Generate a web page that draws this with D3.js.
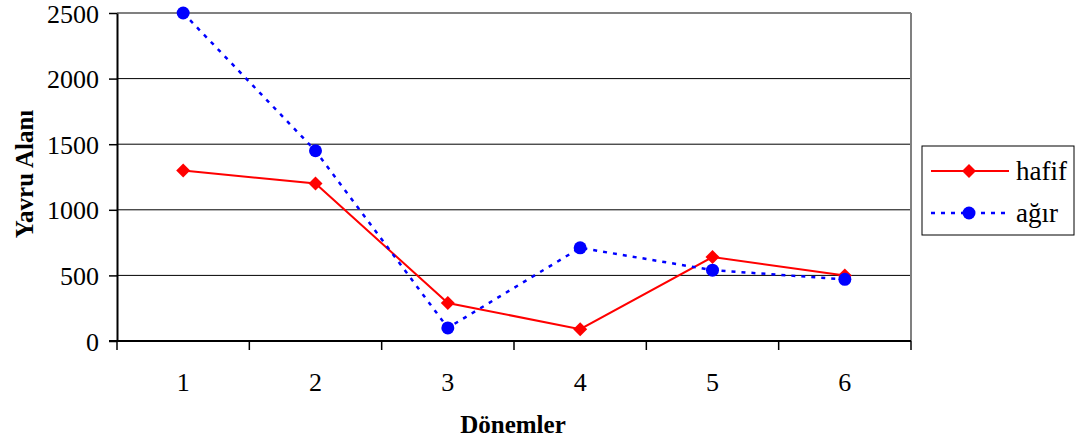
<!DOCTYPE html>
<html><head><meta charset="utf-8">
<script src="https://cdn.jsdelivr.net/npm/d3@7"></script>
<style>body{margin:0;background:#fff}svg{display:block}</style>
</head><body>
<svg id="c" width="1088" height="447" font-family="Liberation Serif"></svg>
<script>
const categories = ["1","2","3","4","5","6"];
const hafif = [1300, 1200, 290, 90, 640, 500];
const agir = [2500, 1450, 100, 710, 540, 470];
const yTicks = [0, 500, 1000, 1500, 2000, 2500];
const seriesNames = ["hafif", "ağır"];

const FONT = "Liberation Serif";
const svg = d3.select("#c");
const L = 117, R = 911, T = 13, B = 341;
const x = d3.scaleBand().domain(categories).range([L, R]).padding(0);
const y = d3.scaleLinear().domain([0, 2500]).range([B, T]);

// gridlines
svg.append("g").selectAll("line").data(yTicks.filter(d => d > 0)).join("line")
  .attr("x1", L).attr("x2", R).attr("y1", d => y(d)).attr("y2", d => y(d))
  .attr("stroke", d => d === 2500 ? "#808080" : "#000").attr("stroke-width", d => d === 2500 ? 2 : 1);
// right border
svg.append("line").attr("x1", R).attr("x2", R).attr("y1", T).attr("y2", B).attr("stroke", "#808080").attr("stroke-width", 2);

// y axis
const yAxis = svg.append("g").attr("transform", `translate(${L},0)`)
  .call(d3.axisLeft(y).tickValues(yTicks).tickFormat(d3.format("d")).tickSize(8).tickSizeOuter(0).tickPadding(10));
yAxis.attr("font-family", FONT);
yAxis.select(".domain").attr("stroke", "#000").attr("stroke-width", 2);
yAxis.selectAll(".tick line").attr("stroke", "#000").attr("stroke-width", 1.5);
yAxis.selectAll("text").attr("font-size", 26).attr("fill", "#000").attr("dy", "0.35em").attr("font-family", FONT);

// x axis with ticks at band boundaries
const xAxisG = svg.append("g").attr("transform", `translate(0,${B})`);
xAxisG.append("line").attr("x1", L - 8).attr("x2", R).attr("stroke", "#000").attr("stroke-width", 2);
const bounds = categories.map(c => x(c)).concat([R]);
xAxisG.selectAll(".bt").data(bounds).join("line").attr("class", "bt")
  .attr("x1", d => d).attr("x2", d => d).attr("y1", 0).attr("y2", 9)
  .attr("stroke", "#000").attr("stroke-width", 1.5);
xAxisG.selectAll(".lbl").data(categories).join("text").attr("class", "lbl")
  .attr("x", d => x(d) + x.bandwidth() / 2).attr("y", 50)
  .attr("text-anchor", "middle").attr("font-size", 26).attr("font-family", FONT).attr("fill", "#000").text(d => d);

// axis titles
svg.append("text").attr("x", 513).attr("y", 433).attr("text-anchor", "middle")
  .attr("font-size", 25).attr("font-weight", "bold").attr("font-family", FONT).text("Dönemler");
svg.append("text").attr("transform", "translate(33,174) rotate(-90)").attr("text-anchor", "middle")
  .attr("font-size", 25).attr("font-weight", "bold").attr("font-family", FONT).text("Yavru Alanı");

const cx = c => x(c) + x.bandwidth() / 2;
const line = d3.line().x((d, i) => cx(categories[i])).y(d => y(d));

// hafif
svg.append("path").datum(hafif).attr("d", line).attr("fill", "none")
  .attr("stroke", "#ff0000").attr("stroke-width", 2);
svg.append("g").selectAll("path").data(hafif).join("path")
  .attr("d", d3.symbol().type(d3.symbolSquare).size(98))
  .attr("transform", (d, i) => `translate(${cx(categories[i])},${y(d)}) rotate(45)`)
  .attr("fill", "#ff0000");

// ağır
svg.append("path").datum(agir).attr("d", line).attr("fill", "none")
  .attr("stroke", "#0000ff").attr("stroke-width", 2.5).attr("stroke-dasharray", "4,6");
svg.append("g").selectAll("circle").data(agir).join("circle")
  .attr("cx", (d, i) => cx(categories[i])).attr("cy", d => y(d)).attr("r", 6.5)
  .attr("fill", "#0000ff");

// legend
const lg = svg.append("g");
lg.append("rect").attr("x", 922).attr("y", 146).attr("width", 152).attr("height", 89)
  .attr("fill", "#fff").attr("stroke", "#000").attr("stroke-width", 1);
const ly = [171, 213];
lg.append("line").attr("x1", 931).attr("x2", 1009).attr("y1", ly[0]).attr("y2", ly[0]).attr("stroke", "#ff0000").attr("stroke-width", 2);
lg.append("path").attr("d", d3.symbol().type(d3.symbolSquare).size(98)).attr("transform", `translate(969,${ly[0]}) rotate(45)`).attr("fill", "#ff0000");
lg.append("line").attr("x1", 931).attr("x2", 1009).attr("y1", ly[1]).attr("y2", ly[1]).attr("stroke", "#0000ff").attr("stroke-width", 2.5).attr("stroke-dasharray", "4,6");
lg.append("circle").attr("cx", 969).attr("cy", ly[1]).attr("r", 6.5).attr("fill", "#0000ff");
lg.selectAll("text").data(seriesNames).join("text")
  .attr("x", 1016).attr("y", (d, i) => ly[i]).attr("dy", "0.32em")
  .attr("font-size", 27).attr("font-family", FONT).attr("fill", "#000").text(d => d);
</script>
</body></html>
